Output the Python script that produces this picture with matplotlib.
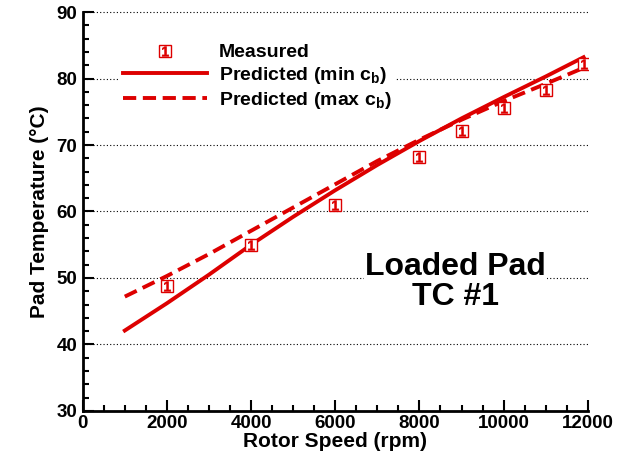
import matplotlib
matplotlib.use("Agg")
import matplotlib.pyplot as plt
from matplotlib.legend_handler import HandlerTuple
from matplotlib.ticker import MultipleLocator

plt.rcParams['font.family'] = 'Liberation Sans'
plt.rcParams['font.weight'] = 'bold'
plt.rcParams['mathtext.fontset'] = 'custom'
plt.rcParams['mathtext.bf'] = 'Liberation Sans:bold'
plt.rcParams['mathtext.rm'] = 'Liberation Sans:bold'
plt.rcParams['mathtext.default'] = 'bf'

# measured pad temperature
meas_rpm = [2000, 4000, 6000, 8000, 9000, 10000, 11000, 11900]
meas_temp = [48.8, 54.9, 61.0, 68.2, 72.1, 75.6, 78.3, 82.2]

# predictions
pred_rpm = [1000, 2000, 3000, 4000, 5000, 6000, 7000, 8000, 9000, 10000, 11000, 11900]
pred_min_cb = [42.1, 46.2, 50.5, 55.0, 59.2, 63.2, 67.0, 70.6, 74.0, 77.2, 80.3, 83.2]
pred_max_cb = [47.2, 50.3, 53.6, 57.1, 60.6, 64.1, 67.6, 70.8, 73.8, 76.6, 79.2, 81.6]

red = '#dd0000'

fig = plt.figure(figsize=(6.22, 4.57), dpi=100)
ax = fig.add_axes([0.133, 0.1007, 0.812, 0.873])

l1, = ax.plot(pred_rpm, pred_min_cb, color=red, lw=2.8, zorder=3)
l2, = ax.plot(pred_rpm, pred_max_cb, color=red, lw=2.8, dashes=(3.4, 1.7), zorder=3)
m1, = ax.plot(meas_rpm, meas_temp, ls='none', marker='s', ms=9, mfc='white',
              mec=red, mew=1.0, zorder=4)
m2, = ax.plot(meas_rpm, meas_temp, ls='none', marker='$1$', ms=7, color=red,
              mew=0.4, zorder=5)

ax.set_xlim(0, 12000)
ax.set_ylim(30, 90)
ax.xaxis.set_major_locator(MultipleLocator(2000))
ax.xaxis.set_minor_locator(MultipleLocator(500))
ax.yaxis.set_major_locator(MultipleLocator(10))
ax.yaxis.set_minor_locator(MultipleLocator(2))
ax.tick_params(which='both', direction='in', labelsize=13.5, width=1.5)
ax.tick_params(which='major', length=8)
ax.tick_params(which='minor', length=4)
ax.tick_params(axis='x', pad=3)
ax.tick_params(axis='y', pad=4)
for lab in ax.get_xticklabels() + ax.get_yticklabels():
    lab.set_fontweight('bold')

ax.spines['top'].set_visible(False)
ax.spines['right'].set_visible(False)
ax.spines['left'].set_linewidth(2)
ax.spines['bottom'].set_linewidth(2)
ax.yaxis.grid(True, which='major', color='black', ls=(0, (1, 2)), lw=0.8)
for g in ax.yaxis.get_gridlines():
    g.set_clip_on(False)

ax.set_xlabel('Rotor Speed (rpm)', fontsize=15, fontweight='bold', labelpad=0)
ax.set_ylabel('Pad Temperature (\u00b0C)', fontsize=15, fontweight='bold', labelpad=5)

ax.text(8850, 49.4, 'Loaded Pad\nTC #1', fontsize=23, fontweight='bold',
        ha='center', va='center', linespacing=1.0, zorder=6,
        bbox=dict(facecolor='white', edgecolor='none', pad=1))

leg = ax.legend([(m1, m2), l1, l2],
                ['Measured', r'Predicted (min c$_b$)', r'Predicted (max c$_b$)'],
                handler_map={tuple: HandlerTuple(ndivide=1)},
                loc='upper left', bbox_to_anchor=(0.065, 0.94), fontsize=14,
                handlelength=4.3, handletextpad=0.6, labelspacing=0.2,
                frameon=True, borderpad=0.2, borderaxespad=0.2)
leg.get_frame().set_edgecolor('none')
leg.get_frame().set_facecolor('white')
leg.get_frame().set_alpha(1)
for t in leg.get_texts():
    t.set_fontweight('bold')

fig.savefig('out.png', dpi=100)
